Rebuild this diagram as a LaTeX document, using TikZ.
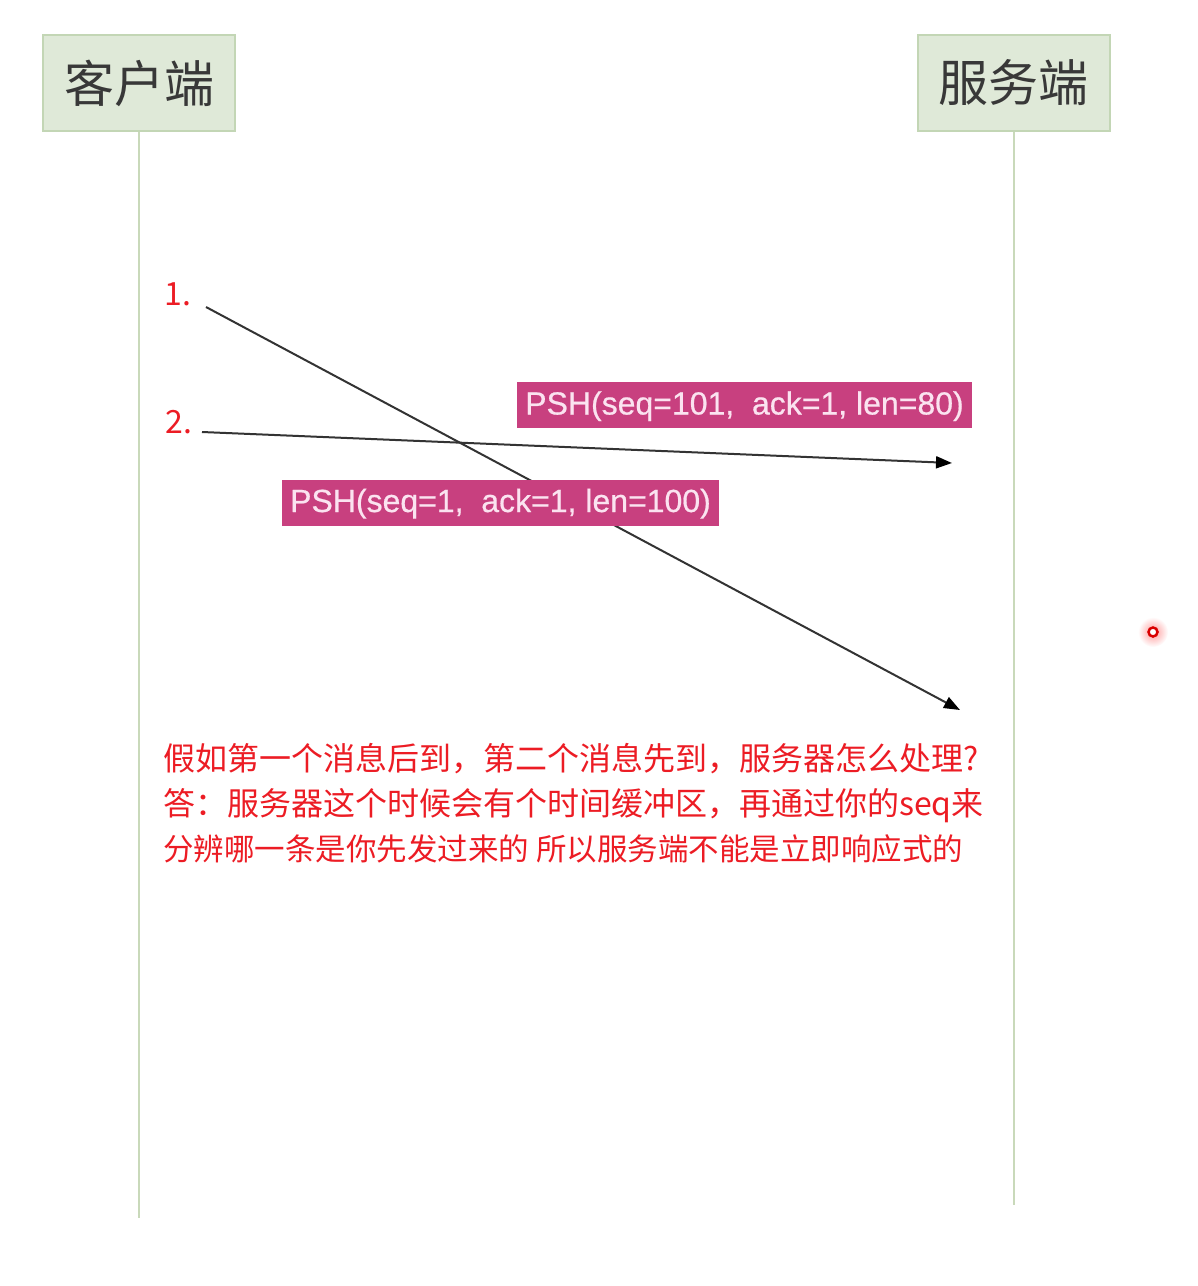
\documentclass[tikz,border=0pt]{standalone}
\usepackage{fontspec}
\newfontfamily\cjk{Noto Sans CJK SC}
\newfontfamily\arial[FakeBold=0.6]{Liberation Sans}
\usetikzlibrary{arrows.meta}
\definecolor{hdrfill}{HTML}{DFE9D8}
\definecolor{hdrdraw}{HTML}{C3D6B5}
\definecolor{lifeline}{HTML}{C9D9BA}
\definecolor{pshfill}{HTML}{C8407F}
\definecolor{pshtext}{HTML}{FBE3F0}
\definecolor{redtxt}{HTML}{EC1C24}
\definecolor{msgline}{HTML}{333333}
\tikzset{
  hdr/.style={draw=hdrdraw, line width=2pt, fill=hdrfill, minimum width=192pt, minimum height=96pt, inner sep=0pt, text=black!78, font=\cjk\fontsize{50}{56}\selectfont},
  life/.style={draw=lifeline, line width=2pt},
  msg/.style={draw=msgline, line width=2pt, -{Triangle[length=16pt,width=12pt,color=black]}},
  psh/.style={fill=pshfill, text=pshtext, inner sep=0pt, minimum height=46pt, text height=28pt, text depth=9pt, font=\arial\fontsize{32}{36}\selectfont},
  num/.style={text=redtxt, font=\cjk\fontsize{32}{36}\selectfont, inner sep=0pt},
  note/.style={text=redtxt, font=\cjk\fontsize{32}{45}\selectfont, inner sep=0pt, anchor=north west, align=left}
}
\begin{document}
\begin{tikzpicture}[x=1pt,y=-1pt]
\useasboundingbox (0,0) rectangle (1198,1286);
% headers
\node[hdr] (cli) at (139,83) {客户端};
\node[hdr] (srv) at (1013.5,83) {服务端};
\coordinate (cliend) at (139,1218);
\coordinate (srvend) at (1013.5,1205);
\draw[life] (cli.south) -- (cliend);
\draw[life] (srv.south) -- (srvend);
% numbers
\node[num] (n1) at (178,294) {1.};
\node[num] (n2) at (179,422) {2.};
% messages
\coordinate (m1s) at (206,307);
\coordinate (m1e) at (960,710);
\coordinate (m2s) at (202,432);
\coordinate (m2e) at (952,463);
\draw[msg] (m1s) -- (m1e);
\draw[msg] (m2s) -- (m2e);
% labels
\node[psh, minimum width=455pt] (p2) at (744.5,405) {PSH(seq=101,\ \ ack=1, len=80)};
\node[psh, minimum width=437pt] (p1) at (500.5,502.5) {PSH(seq=1,\ \ ack=1, len=100)};
% note
\node[note] (txt) at (163,743) {假如第一个消息后到，第二个消息先到，服务器怎么处理?\\答：服务器这个时候会有个时间缓冲区，再通过你的seq来\\{\fontsize{30.5}{45}\selectfont 分辨哪一条是你先发过来的 所以服务端不能是立即响应式的}};
% pointer
\shade[inner color=red!40, outer color=white] (1153,632) circle (15pt);
\draw[draw=red!85!black, line width=2.5pt, fill=white] (1153,632) circle (4.5pt);
\end{tikzpicture}
\end{document}
